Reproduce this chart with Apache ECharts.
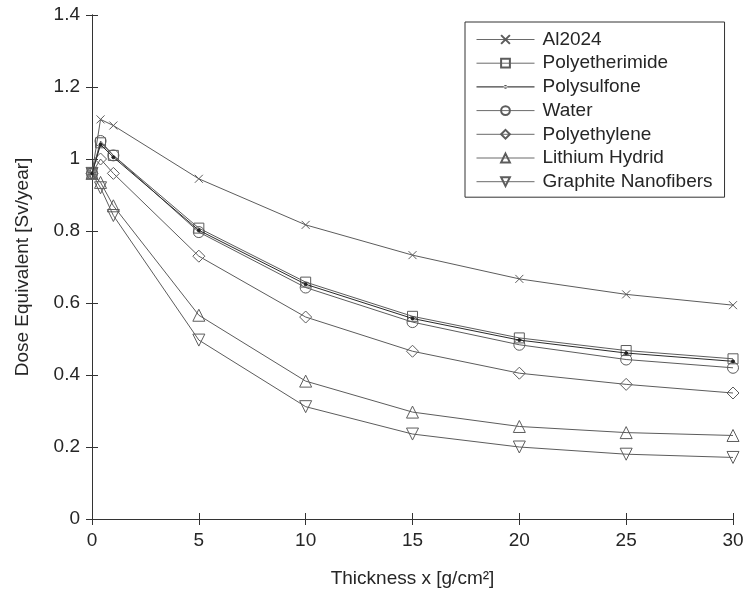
<!DOCTYPE html>
<html>
<head>
<meta charset="utf-8">
<script src="https://cdn.jsdelivr.net/npm/echarts@6/dist/echarts.min.js"></script>
<style>
  html, body { margin: 0; padding: 0; background: #fff; }
  #chart { width: 748px; height: 597px; }
</style>
</head>
<body>
<div id="chart"></div>
<script>
// Shield thickness [g/cm^2]
const thickness = [0, 0.4, 1, 5, 10, 15, 20, 25, 30];

// Dose equivalent [Sv/year] for each shielding material
const al2024           = [0.96, 1.11, 1.093, 0.945, 0.817, 0.733, 0.667, 0.624, 0.594];
const polyetherimide   = [0.96, 1.045, 1.01, 0.808, 0.658, 0.563, 0.503, 0.468, 0.445];
const polysulfone      = [0.96, 1.04, 1.005, 0.802, 0.652, 0.557, 0.497, 0.461, 0.438];
const water            = [0.96, 1.05, 1.01, 0.797, 0.643, 0.547, 0.484, 0.443, 0.42];
const polyethylene     = [0.96, 1.0, 0.96, 0.73, 0.561, 0.466, 0.405, 0.374, 0.35];
const lithiumHydrid    = [0.96, 0.935, 0.87, 0.566, 0.383, 0.297, 0.257, 0.24, 0.232];
const graphiteNanofib  = [0.96, 0.92, 0.843, 0.497, 0.312, 0.236, 0.2, 0.18, 0.171];

const yTicks = [0, 0.2, 0.4, 0.6, 0.8, 1, 1.2, 1.4];
const xTicks = [0, 5, 10, 15, 20, 25, 30];

const LINE = '#5c5c5c';
const TEXT = '#262626';
const FONT = 'Liberation Sans, Arial, sans-serif';

const crossPath = 'path://M0,0L10,10M0,10L10,0';
const downTriPath = 'path://M0,0L10,0L5,9Z';
// Legend glyph for the dot-marker series: a thin line with a small dot in the middle
// (the two zero-length subpaths pin the box to 58 x 11 so nothing gets stretched)
const dotLineIcon = 'path://M0,0L0,0Z M0,11L0,11Z M0,4.9L58,4.9L58,6.1L0,6.1Z ' +
  'M27.2,5.5A1.8,1.8 0 1,0 30.8,5.5A1.8,1.8 0 1,0 27.2,5.5Z';

function pairs(ys) { return thickness.map((x, i) => [x, ys[i]]); }

function makeSeries(name, ys, symbol, size, opts) {
  opts = opts || {};
  return {
    name: name,
    type: 'line',
    data: pairs(ys),
    symbol: symbol,
    symbolSize: size,
    showAllSymbol: true,
    lineStyle: { color: opts.lineColor || LINE, width: 1 },
    itemStyle: {
      color: opts.fill || 'rgba(255,255,255,0)',
      borderColor: opts.border || LINE,
      borderWidth: 1
    },
    emphasis: { disabled: true },
    animation: false,
    z: opts.z || 2
  };
}

const series = [
  makeSeries('Al2024', al2024, crossPath, 8),
  makeSeries('Polyetherimide', polyetherimide, 'rect', 10),
  makeSeries('Polysulfone', polysulfone, 'circle', 3, { lineColor: '#2a2a2a', fill: '#222', border: '#222', z: 3 }),
  makeSeries('Water', water, 'circle', 11),
  makeSeries('Polyethylene', polyethylene, 'diamond', 12),
  makeSeries('Lithium Hydrid', lithiumHydrid, 'triangle', 12),
  makeSeries('Graphite Nanofibers', graphiteNanofib, downTriPath, 12)
];

const legendData = series.map(s => s.name === 'Polysulfone'
  ? { name: s.name, icon: dotLineIcon, itemStyle: { color: '#444', borderWidth: 0 } }
  : { name: s.name });

const axisLine = { show: true, lineStyle: { color: '#333', width: 1 } };

const chart = echarts.init(document.getElementById('chart'), null, { renderer: 'canvas' });
chart.setOption({
  backgroundColor: '#fff',
  animation: false,
  textStyle: { fontFamily: FONT },
  grid: { left: 92, right: 15, top: 15, bottom: 78, containLabel: false },
  legend: {
    orient: 'vertical',
    left: 465,
    top: 22,
    width: 259,
    padding: [8, 12, 6, 11],
    itemWidth: 58,
    itemHeight: 11,
    itemGap: 4.7,
    borderColor: '#333',
    borderWidth: 1,
    backgroundColor: '#fff',
    lineStyle: { width: 1, color: '#6a6a6a' },
    textStyle: { fontSize: 19, color: TEXT, fontFamily: FONT, padding: [0, 0, 0, 3] },
    data: legendData
  },
  xAxis: [
    {
      type: 'value', min: 0, max: 30, interval: 5,
      name: 'Thickness x [g/cm²]', nameLocation: 'middle', nameGap: 50,
      nameTextStyle: { fontSize: 19, color: TEXT, fontFamily: FONT },
      axisLine: axisLine,
      axisTick: { show: true, inside: true, length: 6, lineStyle: { color: '#333' } },
      axisLabel: { fontSize: 19, color: TEXT, margin: 12, fontFamily: FONT,
        formatter: v => xTicks.includes(v) ? String(v) : '' },
      splitLine: { show: false }
    },
    {
      type: 'value', min: 0, max: 30, interval: 5, position: 'top',
      axisLine: axisLine,
      axisTick: { show: true, inside: true, length: 6, lineStyle: { color: '#333' } },
      axisLabel: { show: false },
      splitLine: { show: false }
    }
  ],
  yAxis: [
    {
      type: 'value', min: 0, max: 1.4, interval: 0.2,
      name: 'Dose Equivalent [Sv/year]', nameLocation: 'middle', nameGap: 60,
      nameTextStyle: { fontSize: 19, color: TEXT, fontFamily: FONT },
      axisLine: axisLine,
      axisTick: { show: true, inside: true, length: 6, lineStyle: { color: '#333' } },
      axisLabel: { fontSize: 19, color: TEXT, margin: 12, fontFamily: FONT,
        formatter: v => { const t = yTicks.find(k => Math.abs(k - v) < 1e-9); return t === undefined ? '' : String(t); } },
      splitLine: { show: false }
    },
    {
      type: 'value', min: 0, max: 1.4, interval: 0.2, position: 'right',
      axisLine: axisLine,
      axisTick: { show: true, inside: true, length: 6, lineStyle: { color: '#333' } },
      axisLabel: { show: false },
      splitLine: { show: false }
    }
  ],
  series: series
});
</script>
</body>
</html>
